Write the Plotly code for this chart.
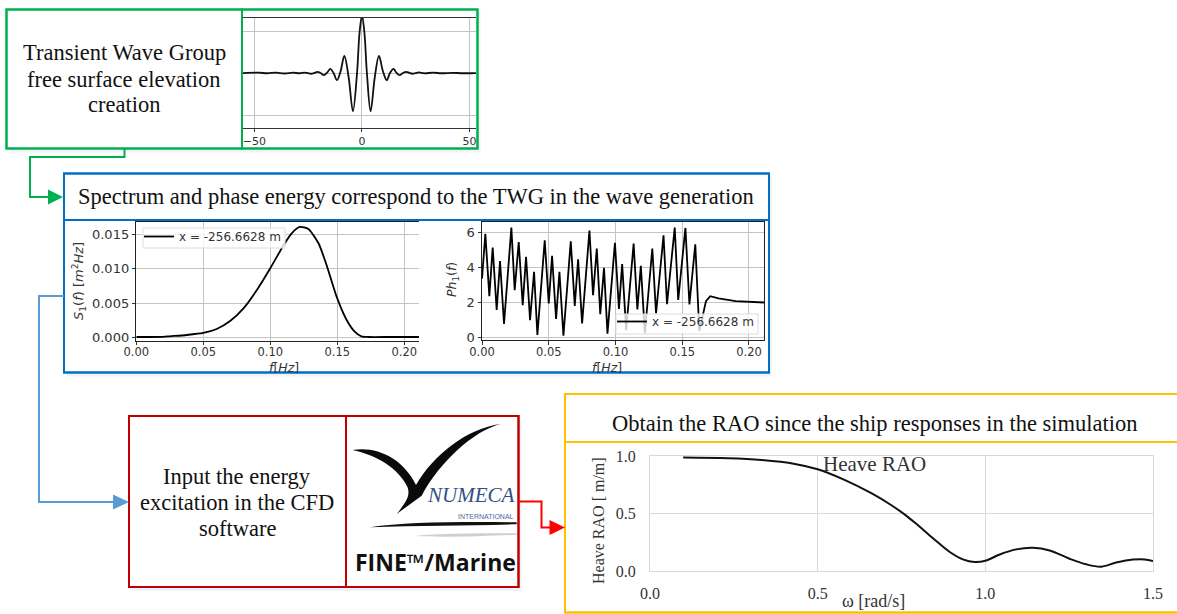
import plotly.graph_objects as go

W, H = 1177, 614
SERIF = "Liberation Serif"
SANS = "DejaVu Sans"
GREEN, BLUE, LBLUE, DRED, RED, YEL = "#00B050", "#0070C0", "#5B9BD5", "#C00000", "#FF0000", "#FFC000"

# --- data ---
wave_x = [-55.3,-48,-44,-40,-36,-32,-29,-26.5,-23.6,-22,-20.6,-19.2,-17.7,-16.2,-14.7,-13.2,-11.6,-9.9,-8.2,-6.2,-4.2,-2.3,-1.15,0,1.15,2.3,4.0,5.95,7.9,9.7,11.5,13,14.6,16,17.5,19,20.5,22,23.4,24.9,26.4,29,33,37,42,47,53]
wave_y = [0,.008,-.005,.01,-.01,.008,-.005,.012,-.016,.005,.03,0,-.05,.01,.10,0,-.17,.05,.41,-.1,-.91,0,.95,1.38,.95,0,-.91,-.1,.41,.05,-.17,0,.10,.01,-.05,0,.03,.005,-.016,0,.016,-.005,.008,-.005,.006,-.004,0]

spec_f = [0,.02,.025,.0376,.05,.06,.07,.08,.09,.10,.11,.116,.122,.1284,.136,.142,.1495,.157,.163,.168,.173,.19,.211]
spec_s = [.0001,.00012,.0002,.00039,.00068,.00126,.00242,.00426,.00692,.01007,.01346,.01515,.01607,.01578,.0137,.01055,.00595,.00256,.00087,.0002,.0001,.0001,.0001]

phase_f = [0,.0025,.0055,.008,.011,.0135,.0165,.022,.0245,.0275,.0305,.033,.036,.039,.0415,.047,.05,.0525,.0555,.058,.061,.0665,.0695,.072,.075,.0805,.0832,.086,.0886,.0914,.094,.0996,.1026,.105,.108,.1136,.1164,.119,.122,.1276,.1304,.136,.1386,.1444,.147,.1524,.1554,.1598,.1628,.1658,.1678,.171,.1772,.19,.2025,.2115]
phase_v = [3.36,5.9,2.36,5.12,1.57,4.35,.78,6.26,2.7,5.44,1.85,4.6,1.0,3.74,.15,5.54,1.95,4.65,1.06,3.74,.11,5.48,1.81,4.46,.81,6.09,2.42,5.07,1.34,3.97,.23,5.39,1.63,4.18,.43,5.35,1.61,4.08,.25,5.07,1.38,5.82,1.9,6.26,2.14,6.24,1.89,5.31,.38,1.47,2.08,2.36,2.23,2.08,2.02,2.0]

rao_w = [.099,.233,.332,.432,.5,.58,.66,.72,.76,.794,.844,.894,.933,.968,1.003,1.043,1.092,1.142,1.192,1.251,1.301,1.346,1.39,1.44,1.475,1.5]
rao_h = [.986,.98,.965,.931,.885,.793,.677,.572,.49,.41,.285,.165,.101,.078,.092,.144,.188,.202,.179,.107,.058,.038,.073,.099,.101,.087]

legend_name = "x = -256.6628 m"

def X(p): return p / W
def Y(p): return 1 - p / H

shapes, annots = [], []

def box(x0, y0, x1, y1, color):
    shapes.append(dict(type="rect", xref="paper", yref="paper", x0=X(x0+3), x1=X(x1+3), y0=Y(y0+3), y1=Y(y1+4),
                       line=dict(width=0), fillcolor="#F0F4FA", layer="below"))
    shapes.append(dict(type="rect", xref="paper", yref="paper", x0=X(x0), x1=X(x1), y0=Y(y0), y1=Y(y1),
                       line=dict(color=color, width=2), fillcolor="white", layer="below"))

def outline(x0, y0, x1, y1, color):
    shapes.append(dict(type="rect", xref="paper", yref="paper", x0=X(x0), x1=X(x1), y0=Y(y0), y1=Y(y1),
                       line=dict(color=color, width=2), layer="above"))

def hline(pts, color, w=2):
    d = "M " + " L ".join(f"{X(a):.5f},{Y(b):.5f}" for a, b in pts)
    shapes.append(dict(type="path", xref="paper", yref="paper", path=d, line=dict(color=color, width=w), layer="above"))

def arrow(x0, x1, y, hh, color):
    d = f"M {X(x1):.5f},{Y(y):.5f} L {X(x0):.5f},{Y(y-hh):.5f} L {X(x0):.5f},{Y(y+hh):.5f} Z"
    shapes.append(dict(type="path", xref="paper", yref="paper", path=d, fillcolor=color, line=dict(width=0), layer="above"))

def P(x, y):
    # logo outline points given in 3x crop coordinates of the logo box
    return f"{X(120 + x/3):.5f},{Y(405 + y/3):.5f}"

def blob(d, fill):
    shapes.append(dict(type="path", xref="paper", yref="paper", path=d + " Z", fillcolor=fill, line=dict(width=0), layer="above"))

def curve(*a):
    return "C " + " ".join(P(a[i], a[i+1]) for i in range(0, 6, 2)) + " "

def text(x, y, s, size=22.5, family=SERIF, color="#111", angle=0):
    annots.append(dict(xref="paper", yref="paper", x=X(x), y=Y(y), text=s, showarrow=False, xanchor="center", yanchor="middle",
                       font=dict(size=size, family=family, color=color), textangle=angle))

# --- boxes ---
box(6.5, 9.5, 477.5, 148.5, GREEN)
box(64, 173.5, 769, 372.5, BLUE)
box(129, 416, 518.5, 587, DRED)
box(565, 394, 1185, 612.5, YEL)
outline(6.5, 9.5, 242, 148.5, GREEN)
outline(242, 9.5, 477.5, 148.5, GREEN)
outline(64, 173.5, 769, 220, BLUE)
outline(64, 220, 769, 372.5, BLUE)
outline(129, 416, 346, 587, DRED)
outline(346, 416, 518.5, 587, DRED)
outline(565, 394, 1185, 442, YEL)
outline(565, 442, 1185, 612.5, YEL)

# --- connectors ---
hline([(124.5,148.5),(124.5,157),(30,157),(30,197),(50,197)], GREEN)
arrow(48, 63, 197, 7.5, GREEN)
hline([(64,296),(39,296),(39,502),(115,502)], LBLUE)
arrow(113, 129, 502, 7.5, LBLUE)
hline([(518.5,501.5),(541.5,501.5),(541.5,527.5),(551,527.5)], RED)
arrow(549.5, 565, 527.5, 7.5, RED)

# --- legend boxes (light, translucent, as in the source plots) ---
for x0, y0, x1, y1 in ((143, 228, 285, 248), (616, 314, 758, 334)):
    shapes.append(dict(type="rect", xref="paper", yref="paper", x0=X(x0), x1=X(x1), y0=Y(y0), y1=Y(y1),
                       line=dict(color="#DDDDDD", width=1), fillcolor="rgba(255,255,255,0.8)", layer="above"))

# --- logo ---
blob("M " + P(697,135) + " " + curve(770,122, 850,160, 888,240) + curve(940,150, 1040,70, 1142,57)
     + curve(1060,78, 960,170, 905,272) + "L " + P(830,327) + " " + curve(860,290, 872,270, 862,245) + curve(835,190, 770,150, 697,135), "#0A0A0A")
blob("M " + P(750,367) + " " + curve(850,352, 1000,350, 1190,352) + "L " + P(1190,358) + " " + curve(1050,362, 900,362, 750,367), "#111111")
blob("M " + P(885,393) + " " + curve(950,385, 1100,385, 1190,385) + "L " + P(1190,389) + " " + curve(1100,392, 980,398, 885,393), "#CFCFCF")
text(471, 495, "<i>NUMECA</i>", size=21, color="#2F4F86")
text(486, 516, "INTERNATIONAL", size=7, family="Liberation Sans", color="#4A6A9A")
text(435, 562, "<b>FINE™/Marine</b>", size=23, family="Open Sans", color="#111")

# --- box texts ---
for yy, s in zip((52, 79, 105), ("Transient Wave Group", "free surface elevation", "creation")):
    text(124, yy, s)
text(415.5, 197, "Spectrum and phase energy correspond to the TWG in the wave generation")
for yy, s in zip((476, 502, 528), ("Input the energy", "excitation in the CFD", "software")):
    text(237, yy, s)
text(875, 423, "Obtain the RAO since the ship responses in the simulation")
text(874, 463.5, "Heave RAO", size=21, color="#333")

# --- axis titles ---
text(79, 281, "<i>S</i><sub>1</sub>(<i>f</i>) [<i>m</i><sup>2</sup><i>Hz</i>]", size=13, family=SANS, color="#333", angle=-90)
text(452, 280, "<i>Ph</i><sub>1</sub>(<i>f</i>)", size=12.5, family=SANS, color="#333", angle=-90)
text(284, 367, "<i>f</i>[<i>Hz</i>]", size=12.5, family=SANS, color="#333")
text(607, 367, "<i>f</i>[<i>Hz</i>]", size=12.5, family=SANS, color="#333")
text(873, 601, "ω [rad/s]", size=18, color="#333")
text(598, 521, "Heave RAO [ m/m]", size=16, color="#333", angle=-90)

# --- charts ---
fig = go.Figure()
line = dict(color="black", width=1.8)
fig.add_trace(go.Scatter(x=wave_x, y=wave_y, mode="lines", line=dict(color="#111", width=1.8, shape="spline", smoothing=1.0),
                         xaxis="x", yaxis="y", showlegend=False))
fig.add_trace(go.Scatter(x=spec_f, y=spec_s, mode="lines", line=dict(color="black", width=1.8, shape="spline", smoothing=0.6),
                         xaxis="x2", yaxis="y2", name=legend_name, legend="legend"))
fig.add_trace(go.Scatter(x=phase_f, y=phase_v, mode="lines", line=line, xaxis="x3", yaxis="y3", name=legend_name, legend="legend2"))
fig.add_trace(go.Scatter(x=rao_w, y=rao_h, mode="lines", line=dict(color="#111", width=2, shape="spline", smoothing=1.0),
                         xaxis="x4", yaxis="y4", showlegend=False))

xtick = dict(size=11.5, family=SANS, color="#333")
ytick = dict(size=13, family=SANS, color="#333")
rfont = dict(size=16, family=SERIF, color="#333")
grid = dict(showgrid=True, gridcolor="#C4C4C4", gridwidth=1, zeroline=False, automargin=False)
gridr = dict(showgrid=True, gridcolor="#D9D9D9", zeroline=False, automargin=False)
def dom_x(a, b): return [X(a), X(b)]
def dom_y(top, bot): return [Y(bot), Y(top)]

lay = dict(
    template="none", width=W, height=H, margin=dict(l=0, r=0, t=0, b=0, pad=0), autosize=False,
    paper_bgcolor="white", plot_bgcolor="rgba(0,0,0,0)", shapes=shapes, annotations=annots,
    xaxis=dict(domain=dom_x(243, 476), range=[-55.3, 53], tickvals=[-50, 0, 50], ticks="outside", ticklen=3, tickcolor="#333",
               tickfont=dict(size=11, family=SANS, color="#333"), showline=True, mirror=True, linecolor="#333", linewidth=1, anchor="y", **grid),
    yaxis=dict(domain=dom_y(17.7, 128), range=[-1.31, 1.32], tickvals=[-1, 0, 1], showticklabels=False, ticks="", showline=False, anchor="x", **grid),
    xaxis2=dict(domain=dom_x(136.3, 419), range=[0, 0.211], tickvals=[0, .05, .1, .15, .2], tickformat=".2f", ticks="outside", ticklen=3.5, tickcolor="#333",
                ticklabelstandoff=-3, tickfont=xtick, showline=True, mirror=True, linecolor="#222", linewidth=1, anchor="y2", **grid),
    yaxis2=dict(domain=dom_y(222.3, 340.7), range=[-0.00044, 0.01674], tickvals=[0, .005, .01, .015], tickformat=".3f", ticks="outside", ticklen=3.5, tickcolor="#333",
                tickfont=ytick, showline=True, mirror=False, linecolor="#222", linewidth=1, anchor="x2", **grid),
    xaxis3=dict(domain=dom_x(482, 764.3), range=[0, 0.2115], tickvals=[0, .05, .1, .15, .2], tickformat=".2f", ticks="outside", ticklen=3.5, tickcolor="#333",
                ticklabelstandoff=-3, tickfont=xtick, showline=True, mirror=True, linecolor="#222", linewidth=1, anchor="y3", **grid),
    yaxis3=dict(domain=dom_y(222.3, 340.3), range=[-0.15, 6.56], tickvals=[0, 2, 4, 6], ticks="outside", ticklen=3.5, tickcolor="#333",
                tickfont=ytick, showline=True, mirror=True, linecolor="#222", linewidth=1, anchor="x3", **grid),
    xaxis4=dict(domain=dom_x(650, 1153), range=[0, 1.5], tickvals=[0, .5, 1, 1.5], tickformat=".1f", ticks="", ticklabelstandoff=8,
                tickfont=rfont, showline=True, mirror=True, linecolor="#D9D9D9", linewidth=1, anchor="y4", **gridr),
    yaxis4=dict(domain=dom_y(456, 571), range=[0, 1], tickvals=[0, .5, 1], tickformat=".1f", ticks="", ticklabelstandoff=10,
                tickfont=rfont, showline=True, mirror=True, linecolor="#D9D9D9", linewidth=1, anchor="x4", **gridr),
    legend=dict(x=X(139), y=Y(222), xanchor="left", yanchor="top", bgcolor="rgba(0,0,0,0)", borderwidth=0,
                font=dict(size=12, family=SANS, color="#333"), itemwidth=30),
    legend2=dict(x=X(612), y=Y(307), xanchor="left", yanchor="top", bgcolor="rgba(0,0,0,0)", borderwidth=0,
                 font=dict(size=12, family=SANS, color="#333"), itemwidth=30),
)
fig.update_layout(**lay)
fig.write_html("out.html", config=dict(displayModeBar=False),
               post_script="document.body.style.margin='0';document.documentElement.style.overflow='hidden';")
